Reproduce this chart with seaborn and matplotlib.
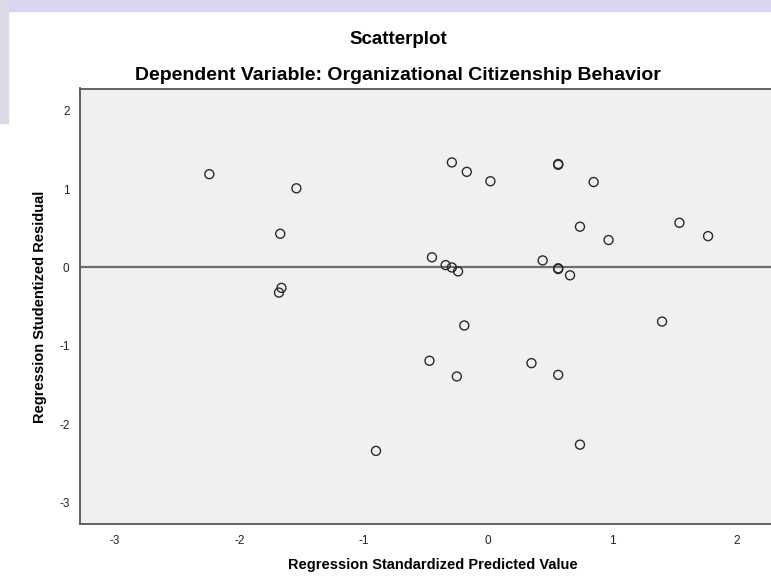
import matplotlib
matplotlib.use("Agg")
import matplotlib.pyplot as plt
import matplotlib.patches as mpatches
import seaborn as sns
import pandas as pd

# Standardized predicted values and studentized residuals
predicted = [-2.24, -1.54, -1.67, -1.66, -1.68, -0.90,
             -0.29, -0.17, 0.02, -0.45, -0.34, -0.29, -0.24, -0.19, -0.47, -0.25,
             0.565, 0.565, 0.85, 0.74, 0.97, 0.44, 0.565, 0.565, 0.66, 0.35, 0.565, 0.74,
             1.54, 1.77, 1.40]
residual = [1.19, 1.01, 0.43, -0.26, -0.32, -2.34,
            1.34, 1.22, 1.10, 0.13, 0.03, 0.00, -0.05, -0.74, -1.19, -1.39,
            1.32, 1.31, 1.09, 0.52, 0.35, 0.09, -0.01, -0.02, -0.10, -1.22, -1.37, -2.26,
            0.57, 0.40, -0.69]

x_ticks = [-3, -2, -1, 0, 1, 2]
y_ticks = [-3, -2, -1, 0, 1, 2]

df = pd.DataFrame({"pred": predicted, "resid": residual})

sns.set_style("white")
plt.rcParams["font.family"] = ["Liberation Sans", "DejaVu Sans"]
plt.rcParams["axes.unicode_minus"] = False

fig = plt.figure(figsize=(7.71, 5.77), dpi=100)
fig.patch.set_facecolor("white")

# faint watermark band at the top and left edges
fig.patches.append(mpatches.Rectangle((0, 1 - 11 / 577), 1, 11 / 577, transform=fig.transFigure,
                                      color="#d9d5f1", zorder=0))
fig.patches.append(mpatches.Rectangle((0, 1 - 123 / 577), 8 / 771, 123 / 577, transform=fig.transFigure,
                                      color="#dcdae6", zorder=0))

ax = fig.add_axes([80 / 771, 1 - 524.3 / 577, 1 - 80 / 771 + 0.02, (524.3 - 88.5) / 577])
ax.set_facecolor("#f0f0f0")

ax.axhline(0, color="#6e6e6e", lw=1.6, zorder=1)
sns.scatterplot(data=df, x="pred", y="resid", ax=ax, marker="o", s=42,
                facecolor="none", edgecolor="#2b2b2b", linewidth=1.0, zorder=3)

ax.set_xlim(-3.28, 2.40)
ax.set_ylim(-3.276, 2.283)
ax.set_xticks(x_ticks)
ax.set_yticks(y_ticks)
ax.tick_params(direction="out", length=5.5, width=1.2, color="#555555",
               labelsize=8.5, labelcolor="#222222", pad=2)
for side in ["left", "bottom", "top"]:
    ax.spines[side].set_color("#555555")
    ax.spines[side].set_linewidth(1.3)
ax.spines["right"].set_visible(False)

ax.set_xlabel("Regression Standardized Predicted Value", fontsize=10.5, fontweight="bold",
              labelpad=8, color="black")
ax.set_ylabel("Regression Studentized Residual", fontsize=10.5, fontweight="bold",
              labelpad=9, color="black")

fig.text(398 / 771, 1 - 39 / 577, "Scatterplot", ha="center", va="center",
         fontsize=13.5, fontweight="bold", color="black")
fig.text(398 / 771, 1 - 75 / 577, "Dependent Variable: Organizational Citizenship Behavior",
         ha="center", va="center", fontsize=14, fontweight="bold", color="black")

fig.savefig("out.png", dpi=100)
